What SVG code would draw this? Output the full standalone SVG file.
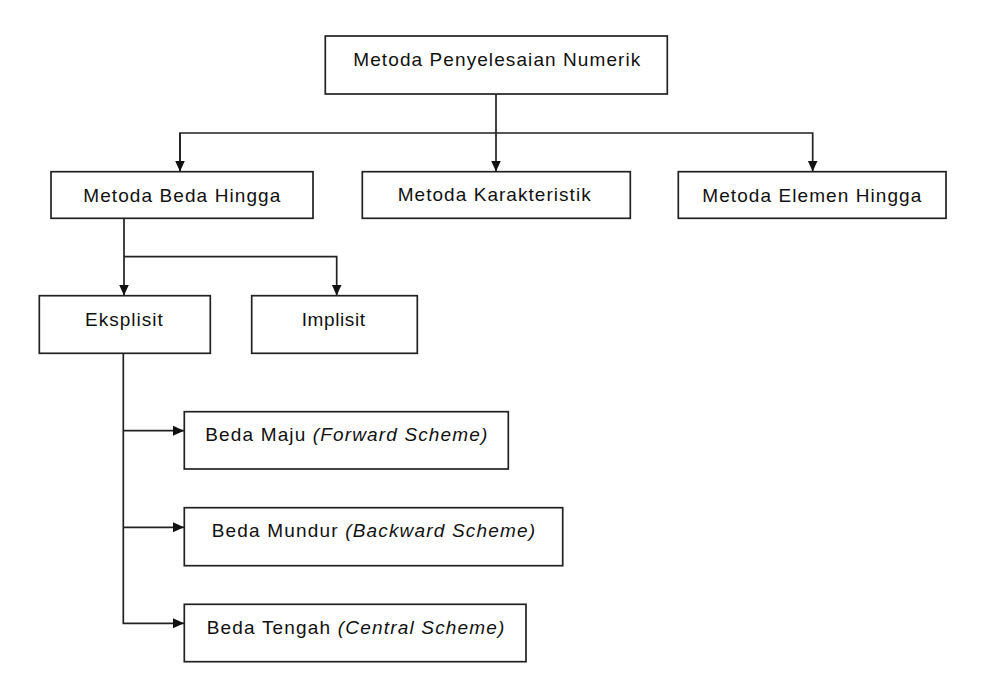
<svg xmlns="http://www.w3.org/2000/svg" width="982" height="690" viewBox="0 0 982 690">
<style>
.box{fill:#fff;stroke:#222;stroke-width:1.7}
.lbl{font-family:"Liberation Sans",Arial,sans-serif;font-size:19px;fill:#111}
.it{font-style:italic}
.con{fill:none;stroke:#222;stroke-width:1.7}
</style>
<defs>
<marker id="arr" markerUnits="userSpaceOnUse" markerWidth="12" markerHeight="12" refX="11" refY="6" orient="auto">
<path d="M0,1 L11,6 L0,11 z" fill="#111"/>
</marker>
</defs>
<rect width="982" height="690" fill="#fff"/>
<g id="connectors">
<path class="con" d="M496,94 V171.5" marker-end="url(#arr)"/>
<path class="con" d="M180,171.5 V133 H812.7 V171.5" marker-end="url(#arr)"/>
<path class="con" d="M180,133 V171.5" marker-end="url(#arr)"/>
<path class="con" d="M124,218.3 V295.5" marker-end="url(#arr)"/>
<path class="con" d="M124,256.7 H336.7 V295.5" marker-end="url(#arr)"/>
<path class="con" d="M123.3,353.3 V623.3 H184" marker-end="url(#arr)"/>
<path class="con" d="M123.3,430.7 H184" marker-end="url(#arr)"/>
<path class="con" d="M123.3,527.3 H184" marker-end="url(#arr)"/>
</g>
<g id="n-root">
<rect class="box" x="325.3" y="36" width="342" height="58"/>
<text class="lbl" x="353.3" y="66" textLength="287" lengthAdjust="spacing">Metoda Penyelesaian Numerik</text>
</g>
<g id="n-beda-hingga">
<rect class="box" x="51" y="171.7" width="262" height="46.6"/>
<text class="lbl" x="83.3" y="201.7" textLength="197" lengthAdjust="spacing">Metoda Beda Hingga</text>
</g>
<g id="n-karakteristik">
<rect class="box" x="362.3" y="171.7" width="268" height="46.6"/>
<text class="lbl" x="397.7" y="201.3" textLength="193" lengthAdjust="spacing">Metoda Karakteristik</text>
</g>
<g id="n-elemen-hingga">
<rect class="box" x="678.3" y="171.7" width="267.7" height="46.6"/>
<text class="lbl" x="702.3" y="201.7" textLength="219" lengthAdjust="spacing">Metoda Elemen Hingga</text>
</g>
<g id="n-eksplisit">
<rect class="box" x="39.3" y="295.7" width="171" height="57.6"/>
<text class="lbl" x="85" y="326" textLength="77.7" lengthAdjust="spacing">Eksplisit</text>
</g>
<g id="n-implisit">
<rect class="box" x="251.7" y="295.7" width="165.6" height="57.6"/>
<text class="lbl" x="301.7" y="326" textLength="63.3" lengthAdjust="spacing">Implisit</text>
</g>
<g id="n-maju">
<rect class="box" x="184.3" y="411.7" width="324" height="57.3"/>
<text class="lbl" x="205.3" y="441" textLength="282" lengthAdjust="spacing">Beda Maju <tspan class="it">(Forward Scheme)</tspan></text>
</g>
<g id="n-mundur">
<rect class="box" x="184.3" y="507.7" width="378.4" height="58"/>
<text class="lbl" x="211.7" y="537.3" textLength="323.3" lengthAdjust="spacing">Beda Mundur <tspan class="it">(Backward Scheme)</tspan></text>
</g>
<g id="n-tengah">
<rect class="box" x="184.3" y="604.3" width="341.7" height="57.4"/>
<text class="lbl" x="206.7" y="634.3" textLength="297.7" lengthAdjust="spacing">Beda Tengah <tspan class="it">(Central Scheme)</tspan></text>
</g>
</svg>
